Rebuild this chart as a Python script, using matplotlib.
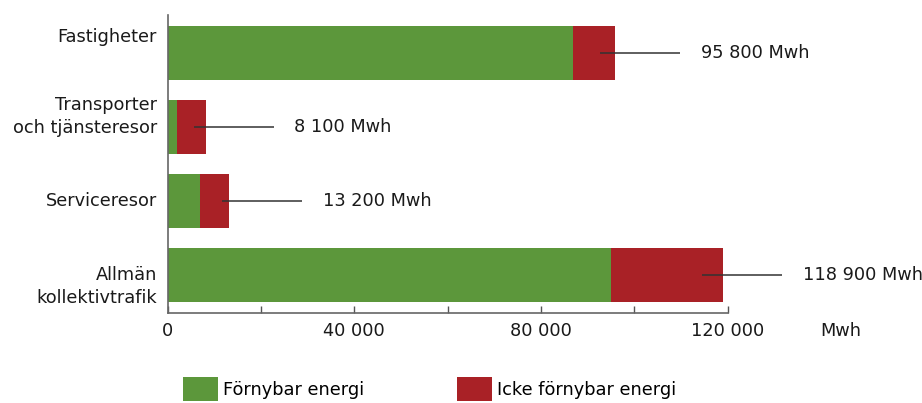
import matplotlib
matplotlib.use("Agg")
import matplotlib.pyplot as plt
from matplotlib.patches import Patch
from matplotlib.transforms import offset_copy

# ---- data ----
categories = ["Fastigheter", "Transporter\noch tjänsteresor", "Serviceresor", "Allmän\nkollektivtrafik"]
renewable = [86900, 1900, 7000, 94900]
nonrenewable = [8900, 6200, 6200, 24000]
series_names = ["Förnybar energi", "Icke förnybar energi"]
xticks = [0, 20000, 40000, 60000, 80000, 100000, 120000]
xticklabels = ["0", "", "40 000", "", "80 000", "", "120 000"]
unit = "Mwh"

GREEN = "#5c973b"
RED = "#a92126"
plt.rcParams["font.family"] = ["DejaVu Sans"]
FS = 12.8

W, H = 922, 403
fig = plt.figure(figsize=(W / 100, H / 100), dpi=100)
ax_l, ax_r, ax_b, ax_t = 167.7, 727.7, 313, 15
ax = fig.add_axes([ax_l / W, 1 - ax_b / H, (ax_r - ax_l) / W, (ax_b - ax_t) / H])

y = list(range(len(categories)))
ax.barh(y, renewable, height=0.73, color=GREEN, edgecolor="none")
ax.barh(y, nonrenewable, left=renewable, height=0.73, color=RED, edgecolor="none")

ax.set_xlim(0, 120000)
ax.set_ylim(3.51, -0.51)
ax.set_xticks(xticks)
ax.set_xticklabels(xticklabels, fontsize=FS, color="#1a1a1a")
ax.set_yticks([])
ax.tick_params(axis="x", direction="in", length=5, width=1, color="#555555", pad=6.5)
for s in ["top", "right"]:
    ax.spines[s].set_visible(False)
for s in ["left", "bottom"]:
    ax.spines[s].set_color("#666666")
    ax.spines[s].set_linewidth(1.2)

# category labels (pixel offsets up on screen)
lab_off_px = [16, 10.5, 0, -11]
for i, cat in enumerate(categories):
    tr = offset_copy(ax.get_yaxis_transform(), fig=fig, x=-10.7 * 0.72, y=lab_off_px[i] * 0.72, units="points")
    ax.text(0, i, cat, transform=tr, ha="right", va="center", multialignment="right",
            fontsize=FS, color="#1a1a1a", linespacing=1.38)

# total annotations
px_per_unit = (ax_r - ax_l) / 120000
line_start_px = [15, 12, 7, 21]
line_len_px = 80
gap_px = 21
for i in y:
    total = renewable[i] + nonrenewable[i]
    x0 = total - line_start_px[i] / px_per_unit
    x1 = x0 + line_len_px / px_per_unit
    ax.plot([x0, x1], [i, i], color="#333333", lw=1.1, clip_on=False, solid_capstyle="butt")
    label = f"{total:,}".replace(",", " ") + " " + unit
    ax.text(x1 + gap_px / px_per_unit, i, label, ha="left", va="center", fontsize=FS,
            color="#1a1a1a", clip_on=False)

# unit label on x axis
tr = offset_copy(ax.get_xaxis_transform(), fig=fig, y=-6.5, units="points")
ax.text((841 - ax_l) / px_per_unit, 0, unit, transform=tr, ha="center", va="top",
        fontsize=FS, color="#1a1a1a", clip_on=False)

handles = [Patch(facecolor=GREEN, edgecolor="none"), Patch(facecolor=RED, edgecolor="none")]
fig.legend(handles, series_names, loc="center left", bbox_to_anchor=(183 / W, 1 - 389 / H),
           ncol=2, frameon=False, fontsize=FS, handlelength=35 / 17.8, handleheight=1.75,
           handletextpad=0.3, columnspacing=5.2, borderpad=0, borderaxespad=0)

fig.savefig("out.png", dpi=100)
